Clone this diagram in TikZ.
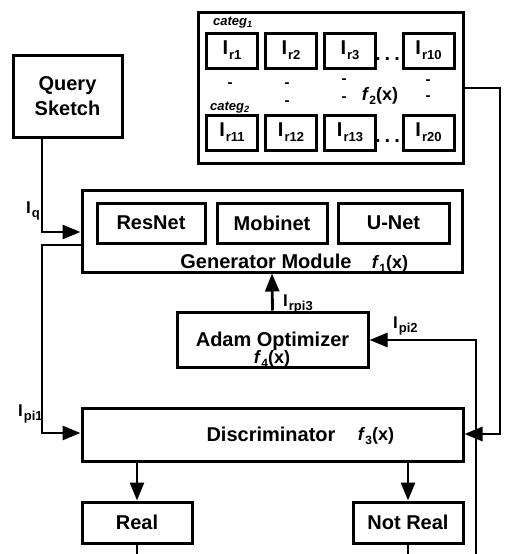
\documentclass[tikz,border=0pt]{standalone}
\usepackage{fontspec}
\setmainfont{Liberation Sans}
\usetikzlibrary{arrows.meta, positioning}
\newcommand{\Isb}[1]{I\hspace{1pt}\raisebox{-0.25em}{\fontsize{13}{13}\selectfont #1}}
\newcommand{\fx}[1]{\textit{f}\raisebox{-0.25em}{\fontsize{12}{12}\selectfont #1}(x)}

\begin{document}
\begin{tikzpicture}
[x=1pt, y=-1pt,
 ->/.style={line width=2.8pt, arrows={-Triangle[length=18pt, width=14pt]}},
 wire/.style={line width=2.8pt},
 blk/.style={shape=rectangle, draw, line width=3pt, inner sep=0pt, font=\bfseries\fontsize{20}{25}\selectfont},
 img/.style={blk, minimum width=51pt, minimum height=35pt},
 txt/.style={inner sep=0pt, font=\bfseries\fontsize{20}{25}\selectfont},
 lbl/.style={inner sep=0pt, font=\bfseries\fontsize{17}{20}\selectfont},
 cat/.style={inner sep=0pt, font=\bfseries\itshape\fontsize{13}{15}\selectfont}]
\useasboundingbox (0,0) rectangle (509,554);
% categories
\node[blk, minimum width=265pt, minimum height=151pt] (cats) at (330.5,87.5) {};
\node[cat, anchor=base west] (categ1) at (213,25) {categ\textsubscript{1}};
\node[cat, anchor=base west] (categ2) at (210,110) {categ\textsubscript{2}};
\node[img] (ir1) at (232,50.5) {\Isb{r1}};
\node[img] (ir2) [right=5pt of ir1] {\Isb{r2}};
\node[img] (ir3) [right=5pt of ir2] {\Isb{r3}};
\node[img] (ir10) at (428.5,50.5) {\Isb{r10}};
\node[img] (ir11) at (232,132.5) {\Isb{r11}};
\node[img] (ir12) [right=5pt of ir11] {\Isb{r12}};
\node[img] (ir13) [right=5pt of ir12] {\Isb{r13}};
\node[img] (ir20) at (428.5,132.5) {\Isb{r20}};
\node[txt, anchor=base] (dots1) at (387.5,60) {.\hspace{4pt}.\hspace{4pt}.};
\node[txt, anchor=base] (dots2) at (387.5,142) {.\hspace{4pt}.\hspace{4pt}.};
\foreach \x/\y [count=\i] in {230/85, 287/85, 287/103, 344/81, 344/99, 428/82, 428/98}
  \node[txt, font=\bfseries\fontsize{15}{15}\selectfont] (dash\i) at (\x,\y) {-};
\node[txt, anchor=base, font=\bfseries\fontsize{18}{20}\selectfont] (f2) at (380,100) {\fx{2}};
% query and generator
\node[blk, minimum width=109pt, minimum height=82pt, align=center] (query) at (67.5,96) {Query\\Sketch};
\node[blk, minimum width=380pt, minimum height=82pt] (gen) at (272,231) {};
\node[blk, minimum width=108pt, minimum height=40pt] (resnet) at (151,223) {ResNet};
\node[blk, minimum width=110pt, minimum height=40pt] (mobinet) at (272,223) {Mobinet};
\node[blk, minimum width=111pt, minimum height=40pt] (unet) at (393.5,223) {U-Net};
\node[txt, anchor=base] (genlbl) at (266,268) {Generator Module};
\node[txt, anchor=base, font=\bfseries\fontsize{18}{20}\selectfont] (f1) at (390,268) {\fx{1}};
% optimizer
\node[blk, minimum width=191pt, minimum height=55pt] (adam) at (272.5,339.5) {};
\node[txt, anchor=base] (adamlbl) at (272.5,346) {Adam Optimizer};
\node[txt, anchor=base, font=\bfseries\fontsize{18}{20}\selectfont] (f4) at (272,363) {\fx{4}};
% discriminator
\node[blk, minimum width=381pt, minimum height=53pt] (disc) at (272.5,434.5) {};
\node[txt, anchor=base] (disclbl) at (271,441) {Discriminator};
\node[txt, anchor=base, font=\bfseries\fontsize{18}{20}\selectfont] (f3) at (376,440) {\fx{3}};
\node[blk, minimum width=110pt, minimum height=41pt] (real) at (137,522.5) {Real};
\node[blk, minimum width=110pt, minimum height=41pt] (notreal) at (408,522.5) {Not Real};
% labels
\node[lbl, anchor=base west] (lq) at (26,213) {\Isb{q}};
\node[lbl, anchor=base west] (lpi1) at (18,416) {\Isb{pi1}};
\node[lbl, anchor=base west] (lrpi3) at (283,306) {\Isb{rpi3}};
\node[lbl, anchor=base west] (lpi2) at (393,328) {\Isb{pi2}};
% connectors
\coordinate (qbend) at (42,232);
\coordinate (p1top) at (42,245);
\coordinate (p1bot) at (42,433);
\coordinate (f2top) at (500,88);
\coordinate (f2bot) at (500,434);
\coordinate (p2top) at (476,340);
\coordinate (p2bot) at (476,554);
\draw [->] (query.south -| qbend) -- (qbend) -- (gen.west |- qbend);
\draw [->] (gen.west |- p1top) -- (p1top) -- (p1bot) -- (disc.west |- p1bot);
\draw [->] (cats.east |- f2top) -- (f2top) -- (f2bot) -- (disc.east |- f2bot);
\draw [->] (p2bot) -- (p2top) -- (adam.east |- p2top);
\draw [->] (adam.north) -- (gen.south);
\draw [->] (disc.south -| real) -- (real);
\draw [->] (disc.south -| notreal) -- (notreal);
\draw [wire] (real.south) -- (real.south |- p2bot);
\draw [wire] (notreal.south) -- (notreal.south |- p2bot);
\end{tikzpicture}
\end{document}
